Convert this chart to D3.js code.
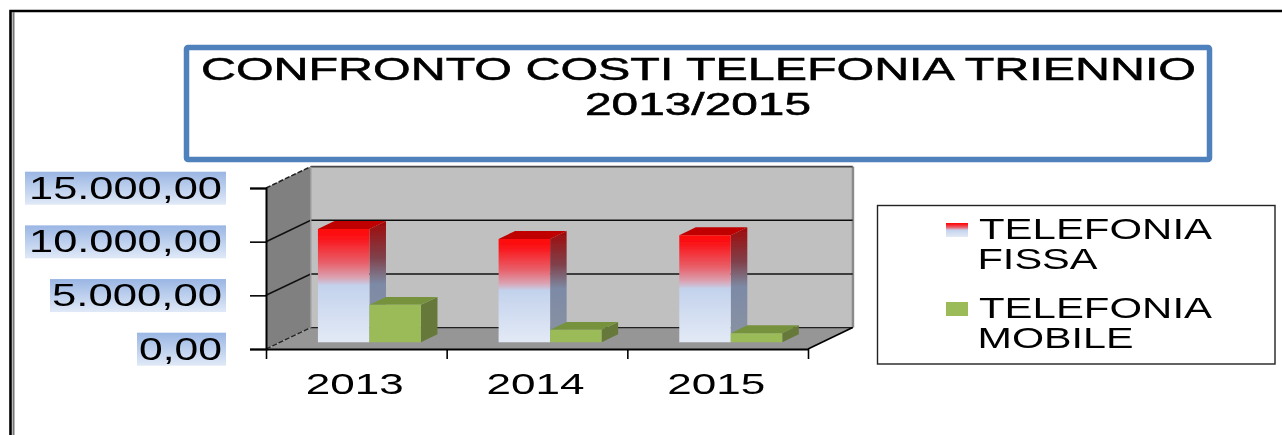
<!DOCTYPE html>
<html><head><meta charset="utf-8">
<script src="https://cdn.jsdelivr.net/npm/d3@7/dist/d3.min.js"></script>
<style>
html,body{margin:0;padding:0;background:#fff;overflow:hidden}
svg{display:block}
text{font-family:"Liberation Sans",Arial,sans-serif;fill:#000}
#art{filter:url(#soft)}
</style></head><body>
<svg id="c" width="1282" height="435"></svg>
<script>
const titleLines = ["CONFRONTO COSTI TELEFONIA TRIENNIO", "2013/2015"];
const years = ["2013", "2014", "2015"];
const seriesNames = ["TELEFONIA FISSA", "TELEFONIA MOBILE"];
const fissa = [10550, 9620, 9970];
const mobile = [3480, 1150, 840];
const yTicks = [0, 5000, 10000, 15000];

const svg = d3.select("#c");
const defs = svg.append("defs");
defs.append("filter").attr("id","soft").attr("x",0).attr("y",0).attr("width","100%").attr("height","100%")
  .attr("filterUnits","userSpaceOnUse").attr("primitiveUnits","userSpaceOnUse")
  .append("feGaussianBlur").attr("stdDeviation",0.6);
function grad(id, stops){
  const g = defs.append("linearGradient").attr("id",id).attr("x1",0).attr("y1",0).attr("x2",0).attr("y2",1);
  stops.forEach(s=>g.append("stop").attr("offset",s[0]).attr("stop-color",s[1]));
}
grad("gFront",[[0,"#ff0808"],[0.08,"#fb1418"],[0.3,"#e8606a"],[0.43,"#dba2b2"],[0.5,"#c3d2ec"],[1,"#e3eaf6"]]);
grad("gSide",[[0,"#a00a0a"],[0.3,"#80404a"],[0.45,"#7e7488"],[0.52,"#7d8aa6"],[1,"#8a93a2"]]);
grad("gHi",[[0,"#9ab6e4"],[1,"#e0e9f7"]]);

const art = svg.append("g").attr("id","art");
art.append("rect").attr("width",1282).attr("height",435).attr("fill","#fff");

// outer frame
art.append("path").attr("d","M10.5 435V11H1282").attr("fill","none").attr("stroke","#000").attr("stroke-width",2.6);
art.append("path").attr("d","M13.5 435V12").attr("fill","none").attr("stroke","#777").attr("stroke-width",2);

// title box
art.append("rect").attr("x",186.5).attr("y",47.5).attr("width",1023).attr("height",112).attr("rx",1.5)
  .attr("fill","#fff").attr("stroke","#4f81bd").attr("stroke-width",5.5);
const tt = art.append("g").attr("font-size",32).attr("stroke","#000").attr("stroke-width",0.55);
tt.append("text").attr("x",201).attr("y",80).attr("textLength",995).attr("lengthAdjust","spacingAndGlyphs").text(titleLines[0]);
tt.append("text").attr("x",585).attr("y",115).attr("textLength",226).attr("lengthAdjust","spacingAndGlyphs").text(titleLines[1]);

// scales and 3D projection
const x0 = 266, xEnd = 808, yBase = 349, yTop = 188;
const depth = {dx:44.7, dy:-21.4};
const y = d3.scaleLinear().domain([0,15000]).range([yBase,yTop]);
const xBand = d3.scaleBand().domain(years).range([x0,xEnd]);
const xTickPos = d3.scaleLinear().domain([0,years.length]).range([x0,xEnd]);
const P = (px,py,z=0)=>[px+depth.dx*z, py+depth.dy*z];
const poly = pts=>"M"+pts.map(p=>p.join(" ")).join("L")+"Z";

const plot = art.append("g");
// back wall
plot.append("path").attr("d",poly([P(x0,y(15000),1),P(xEnd,y(15000),1),P(xEnd,y(0),1),P(x0,y(0),1)])).attr("fill","#c0c0c0");
// right edge soft shade
plot.append("rect").attr("x",xEnd+depth.dx-1).attr("y",y(15000)+depth.dy).attr("width",2.5).attr("height",y(0)-y(15000)).attr("fill","#8a8a8a");
// side wall
plot.append("path").attr("d",poly([P(x0,y(15000),0),P(x0,y(15000),1),P(x0,y(0),1),P(x0,y(0),0)])).attr("fill","#808080");
// floor
plot.append("path").attr("d",poly([P(x0,y(0),0),P(x0,y(0),1),P(xEnd,y(0),1),P(xEnd,y(0),0)])).attr("fill","#969696");
// gridlines on walls
plot.selectAll("path.gr").data(yTicks.filter(d=>d>0&&d<15000)).join("path").attr("class","gr")
  .attr("d",d=>"M"+P(x0,y(d),0)+"L"+P(x0,y(d),1)+"L"+P(xEnd,y(d),1)).attr("fill","none").attr("stroke","#111").attr("stroke-width",1.6);
// back wall top and bottom
plot.append("path").attr("d","M"+P(x0,y(15000),1)+"L"+P(xEnd,y(15000),1)).attr("stroke","#444").attr("stroke-width",1.6);
plot.append("path").attr("d","M"+P(x0,y(0),1)+"L"+P(xEnd,y(0),1)).attr("stroke","#222").attr("stroke-width",1.1);
// dashed side wall edges
plot.append("path").attr("d","M"+P(x0,y(15000),0)+"L"+P(x0,y(15000),1)).attr("stroke","#222").attr("stroke-width",1.5).attr("stroke-dasharray","5 2");
plot.append("path").attr("d","M"+P(x0,y(0),0)+"L"+P(x0,y(0),1)).attr("stroke","#222").attr("stroke-width",1.3).attr("stroke-dasharray","5 2");
plot.append("path").attr("d","M"+P(x0,y(15000),1)+"L"+P(x0,y(0),1)).attr("stroke","#999").attr("stroke-width",1.5);
// floor right edge
plot.append("path").attr("d","M"+P(xEnd,y(0),0)+"L"+P(xEnd,y(0),1)).attr("stroke","#000").attr("stroke-width",1.7);

// bars
const barW = 51.5, zStart = 0.32, zDepth = 0.37;
function bar(g, xl, v, front, side, top){
  const b0 = y(0), t = y(v), xr = xl+barW;
  const F = (px,py,z)=>P(px,py,z+zStart);
  const a = [F(xl,t,0),F(xr,t,0),F(xr,b0,0),F(xl,b0,0)];
  g.append("path").attr("d",poly([F(xr,t,0),F(xr,t,zDepth),F(xr,b0,zDepth),F(xr,b0,0)])).attr("fill",side);
  g.append("path").attr("d",poly([F(xl,t,0),F(xl,t,zDepth),F(xr,t,zDepth),F(xr,t,0)])).attr("fill",top);
  g.append("path").attr("d",poly(a)).attr("fill",front);
}
const bars = plot.append("g");
years.forEach((yr,i)=>{
  const base = xBand(yr)+(xBand.bandwidth()-2*barW)/2 - 1.2;
  const g = bars.append("g");
  bar(g, base, fissa[i], "url(#gFront)", "url(#gSide)", "#c00000");
  bar(g, base+barW, mobile[i], "#9bbb59", "#66793a", "#76923c");
});

// axes
const fmt = d3.formatLocale({decimal:",",thousands:".",grouping:[3],currency:["€",""]}).format(",.2f");
const yAxis = d3.axisLeft(y).tickValues(yTicks).tickSize(16).tickPadding(0).tickFormat("");
const ga = art.append("g").attr("transform",`translate(${x0},0)`).call(yAxis);
ga.selectAll("path").attr("stroke","#000").attr("stroke-width",2);
ga.selectAll("line").attr("stroke","#000").attr("stroke-width",1.6);
const xAxisTicks = d3.axisBottom(xTickPos).ticks(years.length).tickSize(10).tickSizeOuter(0).tickFormat("");
const gb = art.append("g").attr("transform",`translate(0,${yBase})`).call(xAxisTicks);
gb.selectAll("path").attr("stroke","#000").attr("stroke-width",2.2);
gb.selectAll("line").attr("stroke","#000").attr("stroke-width",1.6);

// y labels with highlight
const widths = {0:[137,89,139,83],5000:[50,176,52,170],10000:[25,201,29,193],15000:[25,201,29,193]};
const yl = art.append("g");
yTicks.forEach(t=>{
  const w = widths[t], cy = y(t)+0.2;
  yl.append("rect").attr("x",w[0]).attr("y",cy-16.5).attr("width",w[1]).attr("height",33).attr("fill","url(#gHi)");
  yl.append("text").attr("x",w[2]).attr("y",cy+10.3).attr("font-size",31).attr("textLength",w[3]).attr("lengthAdjust","spacingAndGlyphs").text(fmt(t));
});
// year labels
const xl = art.append("g");
years.forEach(yr=>{
  xl.append("text").attr("x",xBand(yr)+xBand.bandwidth()/2-50.5).attr("y",394).attr("font-size",30).attr("textLength",98).attr("lengthAdjust","spacingAndGlyphs").text(yr);
});

// legend
const lg = art.append("g");
lg.append("rect").attr("x",877.5).attr("y",205.5).attr("width",397.5).attr("height",158.5).attr("fill","#fff").attr("stroke","#222").attr("stroke-width",1.4);
const legendRows = [
  {sw:223, fill:"url(#gFront)", a:239, b:269, wb:120},
  {sw:302, fill:"#9bbb59", a:318, b:348, wb:156}
];
legendRows.forEach((r,i)=>{
  const parts = seriesNames[i].split(" ");
  lg.append("rect").attr("x",946).attr("y",r.sw).attr("width",22).attr("height",14).attr("fill",r.fill);
  lg.append("text").attr("x",979).attr("y",r.a).attr("font-size",30).attr("textLength",233).attr("lengthAdjust","spacingAndGlyphs").text(parts[0]);
  lg.append("text").attr("x",977.5).attr("y",r.b).attr("font-size",30).attr("textLength",r.wb).attr("lengthAdjust","spacingAndGlyphs").text(parts[1]);
});
</script>
</body></html>
